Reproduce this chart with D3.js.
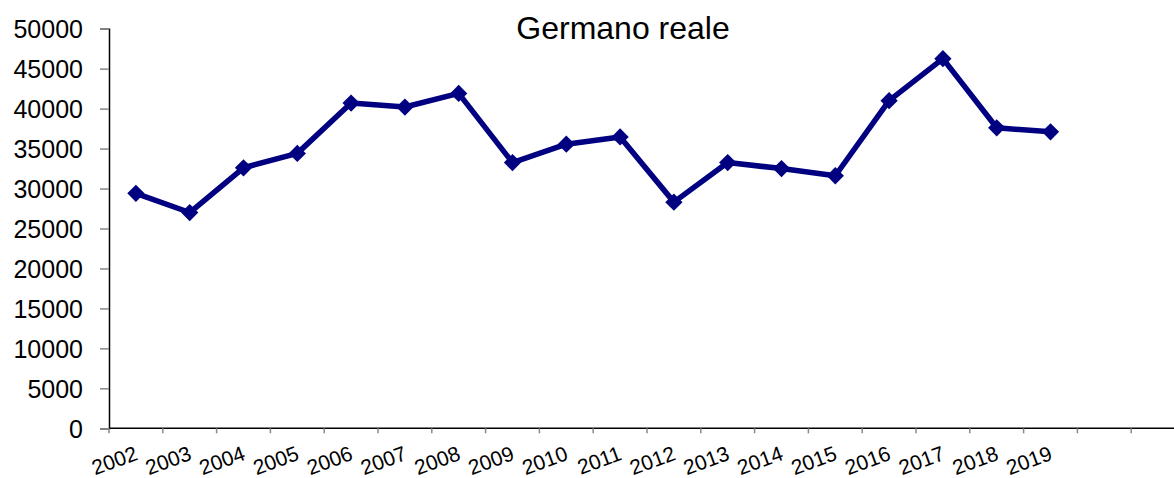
<!DOCTYPE html>
<html>
<head>
<meta charset="utf-8">
<script src="https://cdn.jsdelivr.net/npm/d3@7"></script>
<style>
  body { margin: 0; background: #fff; }
  text { font-family: "Liberation Sans", Arial, sans-serif; fill: #000; }
</style>
</head>
<body>
<svg id="visframe" width="1174" height="478"></svg>
<script>
// data
var years = ["2002","2003","2004","2005","2006","2007","2008","2009","2010",
             "2011","2012","2013","2014","2015","2016","2017","2018","2019"];
var counts = [29400, 27000, 32600, 34400, 40700, 40200, 41900, 33250, 35550,
              36450, 28300, 33250, 32500, 31600, 41000, 46250, 37600, 37100];
var yTicks = [0, 5000, 10000, 15000, 20000, 25000, 30000, 35000, 40000, 45000, 50000];
var title = "Germano reale";

var nSlots = 20; // axis keeps two empty categories after 2019
var plot = { left: 109, top: 28.7, bottom: 428.3, band: 53.8 };
var lineColor = "#000080";

var svg = d3.select("#visframe");

var x = d3.scaleBand()
    .domain(d3.range(nSlots))
    .range([plot.left, plot.left + nSlots * plot.band]);

var y = d3.scaleLinear()
    .domain([0, 50000])
    .range([plot.bottom, plot.top]);

// title
svg.append("text")
    .attr("x", 623)
    .attr("y", 39)
    .attr("text-anchor", "middle")
    .style("font-size", "32px")
    .text(title);

// y axis
var yAxis = svg.append("g")
    .attr("transform", "translate(" + plot.left + ",0)")
    .call(d3.axisLeft(y).tickValues(yTicks).tickSize(9).tickPadding(17).tickFormat(d3.format("d")));
yAxis.select(".domain").attr("stroke", "#000").attr("stroke-width", 1.5);
yAxis.selectAll(".tick line").attr("stroke", "#888").attr("stroke-width", 1.5);
yAxis.selectAll(".tick text").style("font-size", "25px").attr("dy", "0.36em");

// x axis (ticks on band boundaries)
var xAxis = svg.append("g")
    .attr("transform", "translate(0," + plot.bottom + ")");
xAxis.append("line")
    .attr("x1", plot.left).attr("x2", 1174)
    .attr("stroke", "#000").attr("stroke-width", 1.5);
xAxis.selectAll(".xtick")
    .data(d3.range(nSlots + 1))
    .enter()
    .append("line")
    .attr("class", "xtick")
    .attr("x1", function(d) { return plot.left + d * plot.band; })
    .attr("x2", function(d) { return plot.left + d * plot.band; })
    .attr("y1", 0).attr("y2", 5)
    .attr("stroke", "#888").attr("stroke-width", 1.5);
xAxis.selectAll(".xlabel")
    .data(years)
    .enter()
    .append("text")
    .attr("class", "xlabel")
    .attr("text-anchor", "end")
    .style("font-size", "21px")
    .attr("transform", function(d, i) {
        return "translate(" + (x(i) + x.bandwidth() / 2 + 3) + ",31) rotate(-20)";
    })
    .text(function(d) { return d; });

// line + diamond markers
var line = d3.line()
    .x(function(d, i) { return x(i) + x.bandwidth() / 2; })
    .y(function(d) { return y(d); });

svg.append("path")
    .datum(counts)
    .attr("d", line)
    .attr("fill", "none")
    .attr("stroke", lineColor)
    .attr("stroke-width", 5.5)
    .attr("stroke-linejoin", "round");

svg.selectAll(".marker")
    .data(counts)
    .enter()
    .append("path")
    .attr("class", "marker")
    .attr("d", d3.symbol().type(d3.symbolDiamond2).size(190))
    .attr("transform", function(d, i) {
        return "translate(" + (x(i) + x.bandwidth() / 2) + "," + y(d) + ")";
    })
    .attr("fill", lineColor);
</script>
</body>
</html>
